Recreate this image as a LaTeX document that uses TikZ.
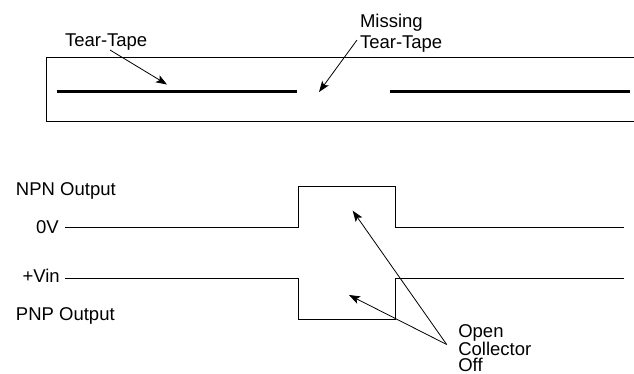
\documentclass[tikz,border=0pt]{standalone}
\usepackage{fontspec}
\setmainfont{Liberation Sans}
\usetikzlibrary{arrows.meta}
\begin{document}
\begin{tikzpicture}[x=1pt,y=-1pt,
  lbl/.style={inner sep=0pt,outer sep=0pt,anchor=base west,font=\fontsize{18.5}{18.5}\selectfont},
  thin/.style={line width=0.9pt},
  tape/.style={line width=2.4pt},
  ptr/.style={line width=0.8pt,-{Stealth[length=11pt,width=8pt,inset=2.5pt]}}]
\useasboundingbox (0,0) rectangle (634,373);
% package strip
\draw[thin] (640,57.3) -- (46,57.3) -- (46,121.3) -- (640,121.3);
\draw[tape] (56.7,91.3) -- (297,91.3);
\draw[tape] (390,91.3) -- (630,91.3);
% labels top
\node[lbl] (tt) at (65,46) {Tear-Tape};
\node[lbl,align=left,font=\fontsize{18.5}{21.5}\selectfont] (mt) at (360,48.5) {Missing\\Tear-Tape};
\coordinate (tt-tail) at (110,50);
\coordinate (tt-tip) at (167,84.5);
\coordinate (mt-tail) at (357,40);
\coordinate (mt-tip) at (319,92);
\draw[ptr] (tt-tail) -- (tt-tip);
\draw[ptr] (mt-tail) -- (mt-tip);
% waveform labels
\node[lbl] (npn) at (16,195) {NPN Output};
\node[lbl] (zv) at (36,233) {0V};
\node[lbl] (vin) at (22.5,282) {+Vin};
\node[lbl] (pnp) at (16,320.5) {PNP Output};
% waveforms
\draw[thin] (65,227.7) -- (298.3,227.7) -- (298.3,186) -- (395.7,186) -- (395.7,227.7) -- (624.3,227.7);
\draw[thin] (65,278.3) -- (298.3,278.3) -- (298.3,319) -- (395.7,319) -- (395.7,278.3) -- (624.3,278.3);
% open collector label
\node[lbl,align=left,font=\fontsize{18.5}{16}\selectfont] (oc) at (458.3,371.5) {Open\\Collector\\Off};
\coordinate (oc-tail) at (446.7,344.5);
\coordinate (npn-tip) at (352.7,210.7);
\coordinate (pnp-tip) at (349,295);
\draw[ptr] (oc-tail) -- (npn-tip);
\draw[ptr] (oc-tail) -- (pnp-tip);
\end{tikzpicture}
\end{document}
